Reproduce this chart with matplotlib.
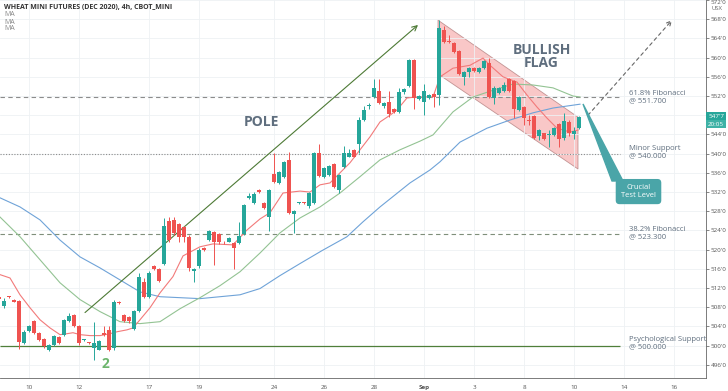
import numpy as np
import matplotlib
matplotlib.use("Agg")
import matplotlib.pyplot as plt

plt.rcParams['font.family'] = ['Open Sans', 'DejaVu Sans']

# 4h candles, prices in US cents (bar index = position)
opens = [510.2, 508.2, 510.2, 509.6, 509.3, 500.6, 503.0, 505.1, 502.6, 501.4,
         499.0, 500.2, 501.9, 502.3, 505.1, 506.4, 504.2, 501.1, 500.6, 499.5,
         499.2, 502.6, 503.3, 499.5, 509.2, 506.4, 506.0, 503.5, 507.2, 513.3,
         510.1, 516.6, 516.0, 517.1, 525.9, 526.2, 525.4, 524.8, 522.7, 515.6,
         516.5, 520.3, 522.0, 523.6, 523.2, 521.6, 521.7, 521.4, 521.4, 523.3,
         530.7, 529.8, 532.4, 529.8, 526.9, 535.8, 533.9, 535.1, 538.7, 527.5,
         529.8, 529.8, 529.0, 529.8, 540.1, 535.2, 535.6, 537.9, 532.4, 537.2,
         539.4, 540.8, 542.0, 547.0, 549.9, 551.8, 553.1, 549.9, 550.8, 549.4,
         548.7, 552.8, 554.0, 559.5, 551.4, 550.8, 551.6, 552.4, 552.2, 565.7,
         563.4, 563.0, 561.4, 556.0, 556.9, 557.9, 557.0, 557.8, 558.9, 551.5,
         552.6, 553.0, 555.5, 555.1, 549.1, 549.8, 547.0, 547.9, 543.7, 544.2,
         543.8, 543.9, 546.2, 543.3, 546.6, 544.0, 545.4]
highs = [510.4, 510.0, 510.3, 509.8, 509.6, 503.3, 504.4, 505.3, 502.8, 501.6,
         500.4, 502.2, 502.1, 505.5, 506.9, 506.6, 504.4, 501.4, 500.8, 505.0,
         501.1, 504.2, 504.2, 509.6, 509.4, 506.6, 506.2, 507.4, 515.2, 514.0,
         515.5, 516.9, 516.2, 526.6, 526.9, 526.8, 525.6, 525.0, 523.0, 516.2,
         520.3, 520.5, 524.1, 523.8, 523.4, 521.8, 522.7, 521.6, 525.7, 529.5,
         531.8, 532.1, 532.6, 530.0, 532.7, 540.1, 536.3, 538.5, 540.4, 528.3,
         530.0, 530.0, 532.1, 540.4, 542.0, 537.3, 537.6, 538.1, 535.8, 541.5,
         541.0, 541.0, 547.6, 549.9, 550.6, 555.5, 555.5, 550.8, 553.1, 549.6,
         553.6, 553.6, 559.7, 559.7, 552.2, 554.5, 552.4, 552.6, 567.8, 566.5,
         564.8, 563.2, 561.6, 557.2, 558.1, 558.1, 558.0, 559.4, 560.0, 554.0,
         553.8, 555.0, 555.7, 555.3, 552.1, 550.0, 548.0, 548.1, 545.1, 544.4,
         545.0, 545.5, 546.4, 548.4, 547.0, 545.5, 547.9]
lows = [509.6, 507.9, 510.0, 509.0, 499.4, 500.4, 502.8, 502.5, 500.9, 499.6,
        498.8, 500.0, 500.4, 502.1, 504.9, 503.8, 500.2, 500.9, 500.3, 497.1,
        499.0, 502.0, 498.8, 499.2, 508.6, 504.9, 504.8, 503.3, 507.0, 509.9,
        509.9, 515.8, 513.2, 516.9, 521.6, 523.0, 521.7, 521.7, 515.5, 513.2,
        516.2, 519.8, 521.8, 516.8, 521.2, 521.2, 521.5, 516.0, 521.2, 523.1,
        530.5, 529.6, 531.8, 528.4, 523.8, 533.8, 533.7, 534.9, 527.5, 523.4,
        529.5, 529.5, 528.7, 529.6, 535.2, 535.0, 535.4, 532.8, 531.8, 537.0,
        539.2, 539.2, 540.1, 546.8, 549.4, 551.6, 550.3, 549.5, 547.6, 548.5,
        548.5, 552.5, 553.8, 549.2, 551.2, 548.0, 551.4, 549.8, 550.1, 563.1,
        563.0, 560.9, 556.3, 554.3, 556.0, 557.0, 556.8, 557.6, 551.5, 550.3,
        552.4, 552.8, 552.8, 547.4, 548.9, 546.0, 546.0, 543.0, 542.8, 542.9,
        541.3, 543.7, 541.3, 542.9, 543.6, 543.0, 545.2]
closes = [509.8, 509.4, 510.1, 509.2, 500.8, 502.9, 504.2, 502.7, 501.1, 500.0,
          500.2, 502.0, 500.6, 505.3, 506.2, 504.0, 500.6, 501.2, 500.5, 500.6,
          500.9, 502.3, 499.0, 509.0, 508.8, 505.1, 505.1, 507.2, 514.3, 510.1,
          515.1, 516.0, 513.4, 525.0, 522.0, 523.4, 522.7, 522.7, 516.1, 516.0,
          520.0, 520.0, 523.9, 521.5, 521.5, 521.5, 522.5, 520.3, 522.9, 529.3,
          531.1, 531.5, 532.0, 528.6, 532.5, 534.0, 536.1, 538.3, 527.7, 528.1,
          529.9, 529.7, 531.9, 540.2, 535.4, 537.1, 537.4, 533.0, 535.6, 540.2,
          540.2, 539.4, 547.0, 549.1, 550.0, 553.7, 550.5, 550.5, 548.3, 548.7,
          552.9, 553.4, 559.5, 551.5, 552.0, 553.1, 552.2, 551.8, 566.1, 563.3,
          563.2, 561.1, 556.5, 557.0, 557.9, 557.2, 557.8, 559.2, 551.7, 553.7,
          553.6, 554.3, 553.0, 549.4, 551.9, 547.5, 546.7, 543.2, 544.9, 543.1,
          543.9, 545.3, 543.0, 546.8, 544.2, 544.7, 547.7]

# moving averages: (bar, price)
ma_red_x = [0.2, 2.2, 4.2, 6.2, 8.2, 10.2, 12.2, 13.6, 14.8, 16.2, 18.2, 20.2, 22.2,
            23.6, 25.6, 26.8, 28.2, 30.2, 32.2, 34.8, 36.8, 40.2, 42.8, 46.8, 49.6,
            52.2, 54.2, 56.8, 60.2, 62.2, 64.2, 66.2, 68.2, 70.2, 72.2, 74.2, 76.2,
            78.2, 79.6, 81.6, 83.6, 86.8, 88.2, 90.8, 94.2, 96.8, 98.2, 100.8, 103.6,
            105.6, 107.6, 109.6, 111.6, 114.2, 115.8]
ma_red_y = [514.8, 514.1, 510.6, 507.9, 505.4, 503.7, 502.3, 502.5, 502.7, 502.3, 502.1,
            502.1, 502.5, 502.9, 503.3, 503.7, 505.4, 507.9, 511.0, 514.4, 518.7, 520.6,
            521.2, 521.0, 524.1, 526.4, 527.7, 531.8, 532.2, 532.0, 533.5, 533.9, 536.0,
            538.1, 540.8, 543.5, 546.6, 548.0, 549.1, 551.6, 551.8, 551.8, 556.0, 557.8,
            558.4, 559.9, 558.4, 556.0, 554.9, 552.2, 549.7, 547.4, 545.3, 544.5, 544.9]
ma_green_x = [0.2, 4.2, 8.2, 12.2, 16.2, 20.2, 24.2, 28.2, 32.2, 36.2, 40.2, 44.2, 48.2,
              52.2, 56.2, 60.2, 64.2, 68.2, 72.2, 76.2, 80.2, 84.2, 86.8, 90.8, 94.8,
              98.8, 102.8, 106.8, 110.8, 114.8, 116.2]
ma_green_y = [526.8, 522.7, 517.9, 513.1, 509.6, 507.1, 505.0, 504.6, 505.0, 507.7, 510.0,
              512.5, 515.4, 519.3, 523.5, 526.6, 528.9, 531.8, 535.2, 538.7, 540.8, 542.6,
              543.9, 548.7, 551.8, 553.2, 554.5, 554.3, 553.7, 552.0, 551.8]
ma_blue_x = [0.2, 4.2, 8.2, 12.2, 16.2, 20.2, 24.2, 28.2, 32.2, 36.2, 40.2, 44.2, 48.2,
             52.2, 56.2, 60.2, 64.6, 69.6, 72.8, 76.2, 82.2, 86.2, 88.2, 92.2, 97.6,
             102.2, 106.8, 110.8, 116.2]
ma_blue_y = [530.8, 528.9, 526.2, 522.0, 518.5, 516.2, 513.7, 511.2, 510.2, 510.0, 509.8,
             510.2, 510.6, 511.9, 514.6, 517.1, 519.8, 522.7, 525.8, 528.9, 533.9, 536.6,
             538.3, 542.4, 545.3, 547.0, 548.5, 549.5, 550.3]

date_pos = [6, 16, 30, 40, 55, 65, 75, 85, 95, 105, 115, 125, 135]
date_labels = ['10', '12', '17', '19', '24', '26', '28', 'Sep', '3', '8', '10', '14', '16']

price_ticks = list(range(496, 573, 4))

fib618 = 551.7
minor_support = 540.0
fib382 = 523.3
psych_support = 500.0
last_price = 547.7

# pole & flag geometry (bar, price)
pole_start, pole_end = (17.2, 506.9), (83.8, 566.8)
flag_x = [87.8, 115.8, 115.8, 87.8]
flag_y = [567.8, 547.6, 536.8, 556.6]
proj_start, proj_end = (117.8, 548.0), (134.6, 567.8)

fig = plt.figure(figsize=(7.28, 3.91), dpi=100)
ax = fig.add_axes([0, 1 - 378 / 391, 706 / 728, 378 / 391])
ax.set_xlim(0.2, 141.4)
ax.set_ylim(493.27, 572.0)

# grid and scales
ax.set_yticks(price_ticks)
# the 548 label sits under the last-price tag on the real chart
ax.set_yticklabels(['' if v == 548 else f"{v}'0" for v in price_ticks])
ax.set_xticks(date_pos)
ax.set_xticklabels(date_labels)
ax.grid(color='#eef1f4', lw=0.6, zorder=0)
ax.yaxis.tick_right()
ax.tick_params(axis='both', labelsize=4.5, colors='#555555', length=2, width=0.5)
ax.tick_params(axis='y', pad=1.5)
ax.tick_params(axis='x', length=0, pad=5)
ax.get_yticklabels()[-1].set_verticalalignment('top')
for s in ['top', 'left']:
    ax.spines[s].set_visible(False)
for s in ['right', 'bottom']:
    ax.spines[s].set_color('#666666')
    ax.spines[s].set_linewidth(0.6)
for lab in ax.get_xticklabels():
    if lab.get_text() == 'Sep':
        lab.set_fontweight('bold')

# flag channel
ax.fill(flag_x, flag_y, facecolor='#f7b5b5', alpha=0.75, edgecolor='#b07a7a',
        lw=0.6, zorder=1)

# levels
ax.hlines(fib618, 0.2, 124.2, colors='#8c8c8c', linestyles=(0, (4, 3)), lw=0.8, zorder=2)
ax.hlines(minor_support, 0.2, 124.2, colors='#8c8c8c', linestyles=(0, (1, 1.5)), lw=0.8, zorder=2)
ax.hlines(fib382, 0.2, 124.2, colors='#7f8f7a', linestyles=(0, (4, 3)), lw=0.8, zorder=2)
ax.hlines(psych_support, 0.2, 124.2, colors='#4f7f3a', lw=0.9, zorder=2)

# moving averages
ax.plot(ma_blue_x, ma_blue_y, color='#6fa3d8', lw=0.8, zorder=2)
ax.plot(ma_green_x, ma_green_y, color='#93c393', lw=0.8, zorder=2)
ax.plot(ma_red_x, ma_red_y, color='#f27a7a', lw=0.8, zorder=3)

# candles
idx = np.arange(len(opens))
o = np.array(opens); h = np.array(highs); l = np.array(lows); c = np.array(closes)
cols = np.where(c >= o, '#26a69a', '#ef5350')
ax.vlines(idx, l, h, colors=cols, lw=0.7, zorder=4)
body = np.maximum(np.abs(c - o), 0.2)
ax.bar(idx, body, bottom=np.minimum(o, c), width=0.7, color=cols, zorder=5)

# pole arrow
ax.annotate('', xy=pole_end, xytext=pole_start,
            arrowprops=dict(arrowstyle='->', color='#4d7a35', lw=0.8,
                            mutation_scale=9, shrinkA=0, shrinkB=0), zorder=3)
# projection arrow
ax.annotate('', xy=proj_end, xytext=proj_start,
            arrowprops=dict(arrowstyle='->', color='#666666', lw=0.8, ls=(0, (3, 3)),
                            mutation_scale=8, shrinkA=0, shrinkB=0), zorder=3)

# callout pointer + box
ax.fill([116.8, 122.6, 124.8], [550.35, 534.3, 534.3], color='#4aa5a8', zorder=6)
ax.text(127.9, 532.1, 'Crucial\nTest Level', color='white', fontsize=5.5,
        ha='center', va='center', linespacing=1.1, zorder=7,
        bbox=dict(boxstyle='round,pad=0.7,rounding_size=0.5', fc='#4aa5a8', ec='none'))

# text labels
txt = '#5f6e7e'
lx = 126
ax.text(lx, 551.7, '61.8% Fibonacci\n@ 551.700', color=txt, fontsize=5.5,
        va='center', ha='left', linespacing=1.0)
ax.text(lx, 540.35, 'Minor Support\n@ 540.000', color=txt, fontsize=5.5,
        va='center', ha='left', linespacing=1.0)
ax.text(lx, 523.5, '38.2% Fibonacci\n@ 523.300', color=txt, fontsize=5.5,
        va='center', ha='left', linespacing=1.0)
ax.text(lx, 500.6, 'Psychological Support\n@ 500.000', color=txt, fontsize=5.5,
        va='center', ha='left', linespacing=1.0)
ax.text(52.5, 546.6, 'POLE', color=txt, fontsize=10, fontweight='bold',
        ha='center', va='center')
ax.text(108.5, 560.25, 'BULLISH\nFLAG', color=txt, fontsize=10, fontweight='bold',
        ha='center', va='center', linespacing=0.95)
ax.text(21.2, 496.2, '2', color='#6cb56c', fontsize=10, fontweight='bold',
        ha='center', va='center')

# header
fig.text(4 / 728, 1 - 7 / 391, 'WHEAT MINI FUTURES (DEC 2020), 4h, CBOT_MINI',
         fontsize=5, fontweight='bold', color='#333333', va='center', ha='left')
for yy in [15, 22, 29]:
    fig.text(4 / 728, 1 - yy / 391, 'MA', fontsize=5, color='#888888', va='center', ha='left')
fig.text(711 / 728, 1 - 9 / 391, 'USX', fontsize=4.3, color='#666666', va='center', ha='left')

# last price tags on the price scale
yt = ax.get_yaxis_transform()
ax.text(1.003, last_price, "547'7", transform=yt, fontsize=4.5, color='white',
        va='center', ha='left', clip_on=False, zorder=8,
        bbox=dict(boxstyle='square,pad=0.3', fc='#26a69a', ec='none'))
ax.text(1.003, last_price - 1.55, '20:05', transform=yt, fontsize=4.5, color='white',
        va='center', ha='left', clip_on=False, zorder=8,
        bbox=dict(boxstyle='square,pad=0.3', fc='#3fb2a6', ec='none'))

fig.savefig('out.png', dpi=100)
